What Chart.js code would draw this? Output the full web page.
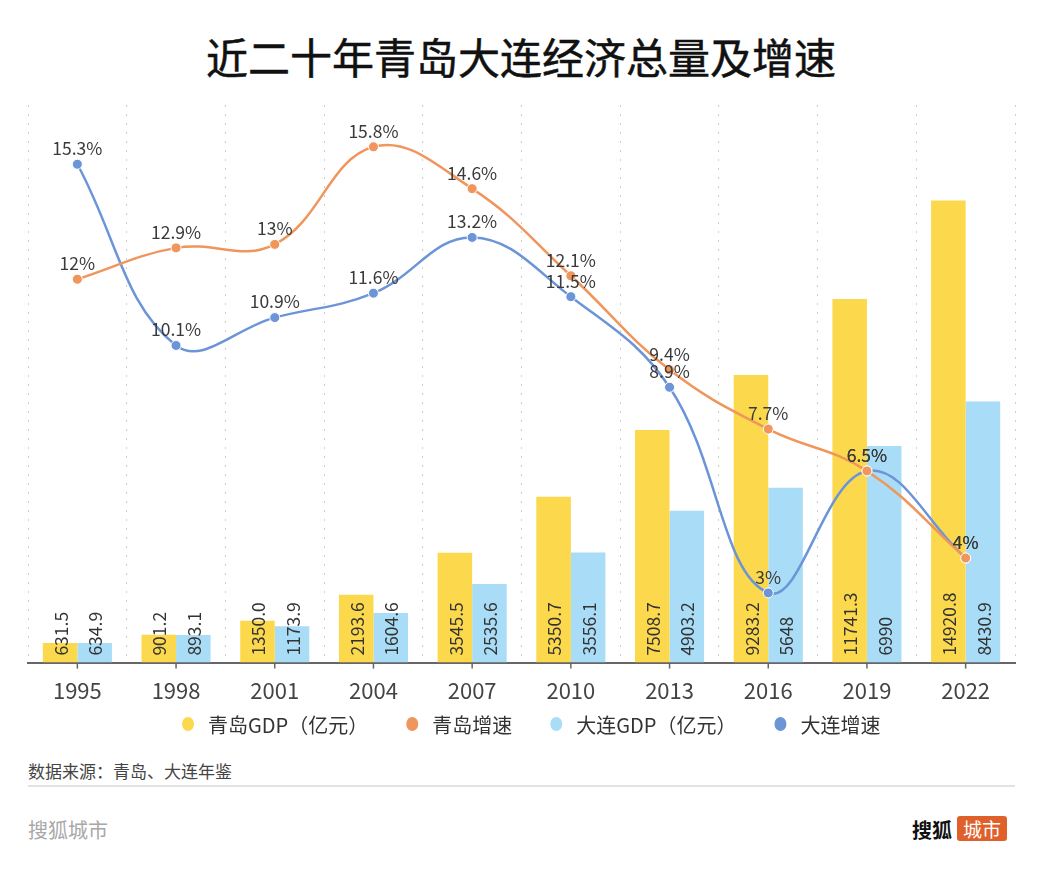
<!DOCTYPE html>
<html>
<head>
<meta charset="utf-8">
<script src="https://cdn.jsdelivr.net/npm/chart.js@4"></script>
<style>
  html, body { margin:0; padding:0; background:#fff; }
  body { width:1042px; height:883px; position:relative; overflow:hidden; font-family:"Noto Sans CJK SC", sans-serif; }
  #title { position:absolute; left:0; top:28px; width:1042px; text-align:center; font-size:42px; line-height:56px; font-weight:400; color:#111; -webkit-text-stroke:0.5px #111; }
  #wrap { position:absolute; left:0; top:0; width:1042px; height:750px; }
  #source { position:absolute; left:28px; top:759px; font-size:17px; line-height:24px; color:#444; }
  #sep { position:absolute; left:28px; top:785px; width:987px; height:2px; background:#e2e2e2; }
  #brand { position:absolute; left:28px; top:816px; font-size:20px; line-height:28px; color:#a8a8a8; }
  #logo { position:absolute; left:912px; top:816px; font-size:20px; line-height:28px; font-weight:700; color:#111; }
  #logo span { display:inline-block; background:#e0602c; color:#fff; font-weight:400; font-size:19px; padding:0 6px; line-height:25px; border-radius:3px; margin-left:5px; vertical-align:1px; }
</style>
</head>
<body>
<div id="title">近二十年青岛大连经济总量及增速</div>
<div id="wrap"><canvas id="c" width="1042" height="750"></canvas></div>
<div id="source">数据来源：青岛、大连年鉴</div>
<div id="sep"></div>
<div id="brand">搜狐城市</div>
<div id="logo">搜狐<span>城市</span></div>
<script>
const years = ["1995","1998","2001","2004","2007","2010","2013","2016","2019","2022"];
const qingdaoGDP = [631.5, 901.2, 1350.0, 2193.6, 3545.5, 5350.7, 7508.7, 9283.2, 11741.3, 14920.8];
const dalianGDP = [634.9, 893.1, 1173.9, 1604.6, 2535.6, 3556.1, 4903.2, 5648, 6990, 8430.9];
const qingdaoGrowth = [12, 12.9, 13, 15.8, 14.6, 12.1, 9.4, 7.7, 6.5, 4];
const dalianGrowth = [15.3, 10.1, 10.9, 11.6, 13.2, 11.5, 8.9, 3, 6.5, 4];
const qingdaoGDPLabels = ["631.5","901.2","1350.0","2193.6","3545.5","5350.7","7508.7","9283.2","11741.3","14920.8"];
const dalianGDPLabels = ["634.9","893.1","1173.9","1604.6","2535.6","3556.1","4903.2","5648","6990","8430.9"];

const FONT = '"Noto Sans CJK SC", sans-serif';
const YELLOW = '#fcd94c', LBLUE = '#a9dcf6', ORANGE = '#f0955b', BLUE = '#6c95d8';

const labelPlugin = {
  id: 'valueLabels',
  afterDatasetDraw(chart, args) {
    const ds = chart.data.datasets[args.index];
    if (ds.type !== 'bar') return;
    const ctx = chart.ctx;
    const meta = args.meta;
    const base = chart.scales.y.getPixelForValue(0);
    ctx.save();
    ctx.font = '17.5px ' + FONT;
    ctx.fillStyle = '#333';
    ctx.textAlign = 'left';
    ctx.textBaseline = 'middle';
    meta.data.forEach((el, i) => {
      ctx.save();
      ctx.translate(el.x, base - 7);
      ctx.rotate(-Math.PI / 2);
      ctx.fillText(ds.valueLabels[i], 0, 1);
      ctx.restore();
    });
    ctx.restore();
  },
  afterDatasetsDraw(chart) {
    const ctx = chart.ctx;
    ctx.save();
    const xs = chart.scales.x;
    ctx.strokeStyle = '#666';
    ctx.lineWidth = 1.5;
    years.forEach((y, i) => {
      const px = xs.getPixelForValue(i);
      ctx.beginPath();
      ctx.moveTo(px, chart.chartArea.bottom);
      ctx.lineTo(px, chart.chartArea.bottom + 6);
      ctx.stroke();
    });
    ctx.font = '17.5px ' + FONT;
    ctx.fillStyle = '#3a3a3a';
    ctx.textAlign = 'center';
    ctx.textBaseline = 'bottom';
    chart.data.datasets.forEach((ds, di) => {
      if (ds.type !== 'line') return;
      const meta = chart.getDatasetMeta(di);
      meta.data.forEach((el, i) => {
        ctx.fillText(ds.data[i] + '%', el.x, el.y - 7);
      });
    });
    ctx.restore();
  },
  afterDraw(chart) {
    // legend row (dataset order), centred under the plot
    const ctx = chart.ctx;
    const items = chart.data.datasets.map(ds => ({ text: ds.label, color: ds.backgroundColor }));
    ctx.save();
    ctx.font = '20px ' + FONT;
    const R = 6.5, GAP_TEXT = 20, GAP_ITEM = 44;
    const widths = items.map(it => ctx.measureText(it.text).width);
    let total = R;
    widths.forEach((w, i) => { total += GAP_TEXT + w + (i < items.length - 1 ? GAP_ITEM : 0); });
    const cy = 724;
    let cx = 531 - total / 2 + R;
    ctx.textBaseline = 'middle';
    ctx.textAlign = 'left';
    items.forEach((it, i) => {
      ctx.fillStyle = it.color;
      ctx.beginPath();
      ctx.ellipse(cx, cy, R - 0.5, R + 0.5, 0, 0, Math.PI * 2);
      ctx.fill();
      ctx.fillStyle = '#333';
      ctx.fillText(it.text, cx + GAP_TEXT, cy + 1);
      cx = cx + GAP_TEXT + widths[i] + GAP_ITEM;
    });
    ctx.restore();
  }
};

new Chart(document.getElementById('c'), {
  data: {
    labels: years,
    datasets: [
      { type:'bar', label:'青岛GDP（亿元）', data: qingdaoGDP, valueLabels: qingdaoGDPLabels, backgroundColor: YELLOW, yAxisID:'y', order: 1, categoryPercentage: 0.7, barPercentage: 1.0 },
      { type:'line', label:'青岛增速', data: qingdaoGrowth, borderColor: ORANGE, backgroundColor: ORANGE, pointBackgroundColor: ORANGE, pointBorderColor:'#fff', pointBorderWidth:1, pointRadius:5, borderWidth:2.5, tension:0.4, yAxisID:'y1', order: 0 },
      { type:'bar', label:'大连GDP（亿元）', data: dalianGDP, valueLabels: dalianGDPLabels, backgroundColor: LBLUE, yAxisID:'y', order: 1, categoryPercentage: 0.7, barPercentage: 1.0 },
      { type:'line', label:'大连增速', data: dalianGrowth, borderColor: BLUE, backgroundColor: BLUE, pointBackgroundColor: BLUE, pointBorderColor:'#fff', pointBorderWidth:1, pointRadius:5, borderWidth:2.5, tension:0.4, yAxisID:'y1', order: 0 }
    ]
  },
  options: {
    responsive: false,
    animation: false,
    layout: { padding: { left: 28, right: 27, top: 105, bottom: 31 } },
    scales: {
      x: {
        offset: true,
        grid: { display: true, offset: true, color: (c) => c.index === 10 ? 'rgba(0,0,0,0)' : '#cfcfcf', lineWidth: 1, drawTicks: false },
        border: { display: true, color: '#666', width: 2, dash: [2,7] },
        ticks: { color: '#444', font: { size: 22, family: FONT }, padding: 15 }
      },
      y: { display: false, min: 0, max: 18000 },
      y1: { display: false, position: 'right', min: 1, max: 17 }
    },
    plugins: {
      legend: { display: false },
      tooltip: { enabled: false }
    }
  },
  plugins: [labelPlugin]
});
</script>
</body>
</html>
